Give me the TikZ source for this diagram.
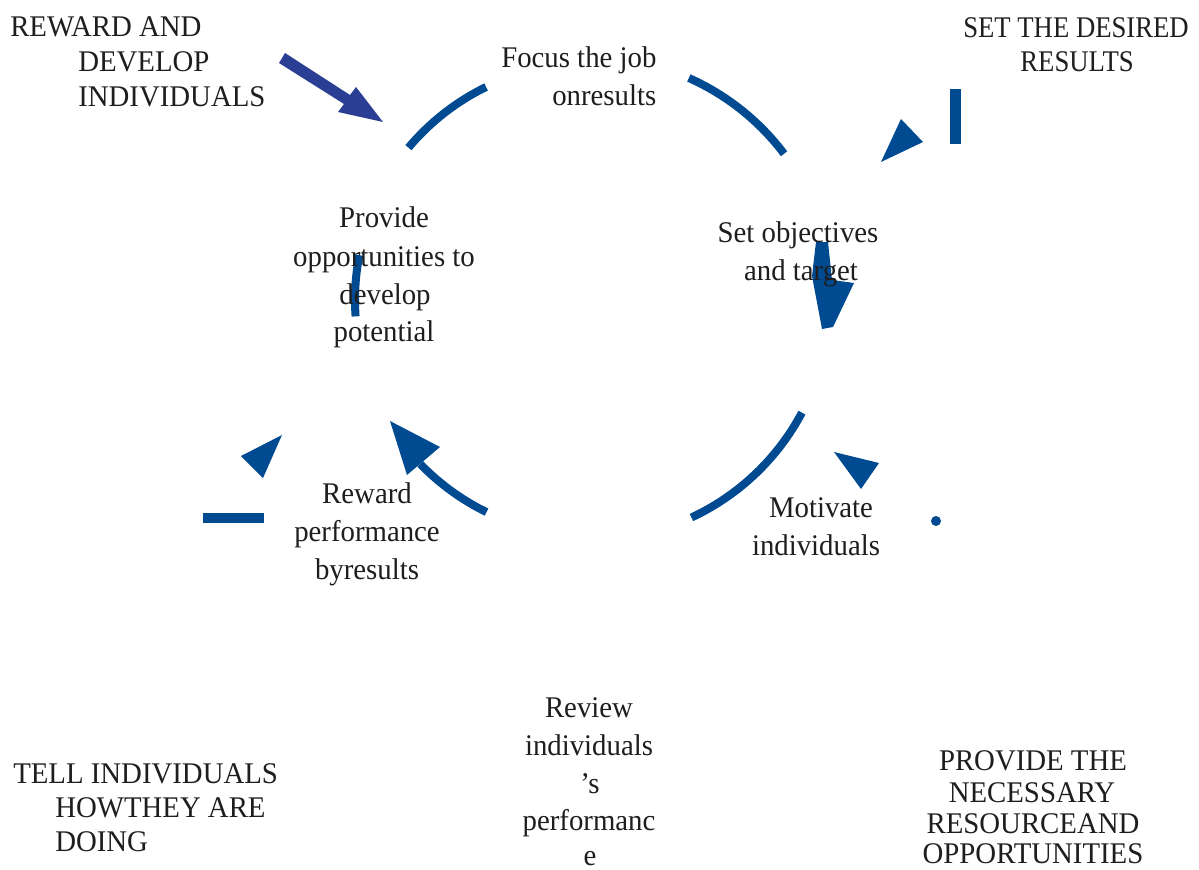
\documentclass[tikz,border=0pt]{standalone}
\usepackage{fontspec}
\setmainfont{Liberation Serif}[FakeStretch=0.96]
\newfontfamily\narrowserif{Liberation Serif}[FakeStretch=0.89]
\definecolor{cyc}{RGB}{0,74,146}
\definecolor{arr}{RGB}{42,62,148}
\definecolor{ink}{RGB}{30,30,30}
\begin{document}
\begin{tikzpicture}[x=0.75pt,y=-0.75pt,
  txt/.style={font=\fontsize{22.5pt}{27pt}\selectfont, text=ink, inner sep=0pt, anchor=base},
  txtl/.style={txt, anchor=base west},
  narrowtxt/.style={txt, font=\narrowserif\fontsize{22.5pt}{27pt}\selectfont},
  arcline/.style={draw=cyc, line width=6pt},
  shapefill/.style={fill=cyc, draw=none}]
\useasboundingbox (0,0) rectangle (1199,870);
\fill[white] (0,0) rectangle (1199,870);

% circle fragments (centre 590,300)
\draw[arcline] (590,300) ++(-140:237) arc[start angle=-140, end angle=-116, radius=237];
\draw[arcline] (590,300) ++(-66:243) arc[start angle=-66, end angle=-37, radius=243];
\draw[arcline] (590,300) ++(28:240) arc[start angle=28, end angle=65, radius=240];
\draw[arcline] (590,300) ++(116:236) arc[start angle=116, end angle=136, radius=236];
\draw[arcline] (590,300) ++(-169:235) arc[start angle=-169, end angle=-184, radius=235];

% arrow heads and marks
\fill[shapefill] (390,421) -- (440,447) -- (407,475) -- cycle;
\fill[shapefill] (816,242) -- (828,242) -- (832,280) -- (854,283) -- (833,327) -- (822,329) -- (812,276) -- cycle;
\fill[arr] (285,53) -- (350,95) -- (356,87) -- (383,122) -- (338,112) -- (344,104) -- (279,63) -- cycle;
\fill[shapefill] (901,119) -- (923,142) -- (881,162) -- cycle;
\fill[shapefill] (950,89) rectangle (961,144);
\fill[shapefill] (282,435) -- (263,478) -- (241,456) -- cycle;
\fill[shapefill] (203,513) rectangle (264,523);
\fill[shapefill] (834,452) -- (879,463) -- (861,489) -- cycle;
\fill[shapefill] (936,521) circle[radius=5];

% texts
\node[txtl] (t1) at (10,37) {REWARD AND};
\node[txtl] (t2) at (78,72) {DEVELOP};
\node[txtl] (t3) at (78,107) {INDIVIDUALS};

\node[txtl] (f1) at (501,68) {Focus the job};
\node[txtl] (f2) at (552,106) {onresults};

\node[narrowtxt] (s1) at (1076,38) {SET THE DESIRED};
\node[narrowtxt] (s2) at (1077,72) {RESULTS};

\node[txt] (o1) at (798,242) {Set objectives};
\node[txt] (o2) at (801,280) {and target};

\node[txt] (p1) at (384,227) {Provide};
\node[txt] (p2) at (384,266) {opportunities to};
\node[txt] (p3) at (385,304) {develop};
\node[txt] (p4) at (384,341) {potential};

\node[txt] (r1) at (367,503) {Reward};
\node[txt] (r2) at (367,541) {performance};
\node[txt] (r3) at (367,579) {byresults};

\node[txt] (m1) at (821,517) {Motivate};
\node[txt] (m2) at (816,555) {individuals};

\node[txt] (v1) at (589,717) {Review};
\node[txt] (v2) at (589,755) {individuals};
\node[txt] (v3) at (590,793) {’s};
\node[txt] (v4) at (589,830) {performanc};
\node[txt] (v5) at (590,865) {e};

\node[txtl] (l1) at (13,783) {TELL INDIVIDUALS};
\node[txtl] (l2) at (55,817) {HOWTHEY ARE};
\node[txtl] (l3) at (55,851) {DOING};

\node[txt] (n1) at (1033,770) {PROVIDE THE};
\node[txt] (n2) at (1032,802) {NECESSARY};
\node[txt] (n3) at (1033,833) {RESOURCEAND};
\node[txt] (n4) at (1033,863) {OPPORTUNITIES};
\end{tikzpicture}
\end{document}
